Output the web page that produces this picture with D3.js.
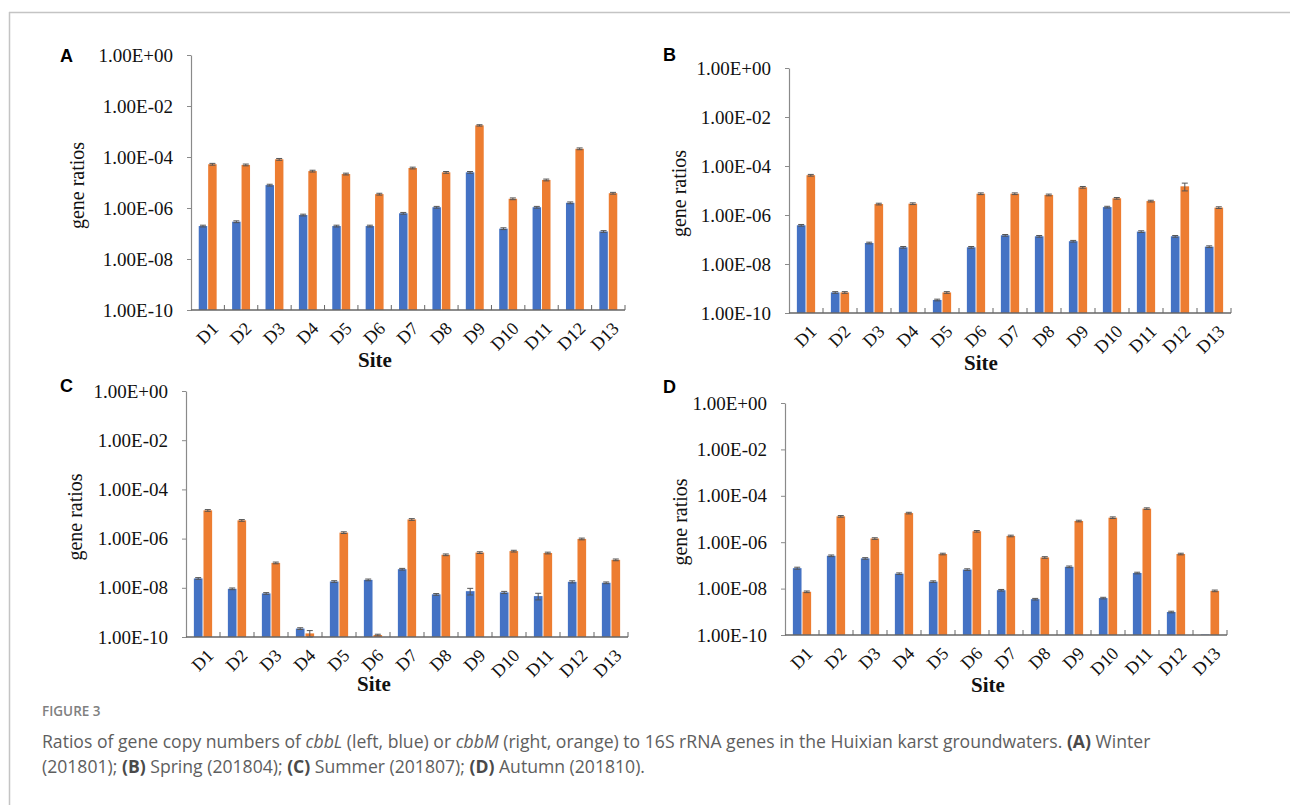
<!DOCTYPE html>
<html>
<head>
<meta charset="utf-8">
<script src="https://cdn.jsdelivr.net/npm/d3@7"></script>
<style>
  html, body { margin: 0; padding: 0; background: #fff; }
  svg { display: block; }
</style>
</head>
<body>
<svg id="chart" width="1290" height="805"></svg>
<script>
// ---------------- DATA ----------------
const sites = ["D1","D2","D3","D4","D5","D6","D7","D8","D9","D10","D11","D12","D13"];
const seriesNames = ["cbbL","cbbM"];
const yTickValues = [1, 1e-2, 1e-4, 1e-6, 1e-8, 1e-10];
const yTickLabels = ["1.00E+00","1.00E-02","1.00E-04","1.00E-06","1.00E-08","1.00E-10"];
const panelLetters = ["A","B","C","D"];

// (A) Winter 201801
const winterCbbL = [1.96e-7, 2.9e-7, 7.9e-6, 5.3e-7, 1.96e-7, 1.96e-7, 6.2e-7, 1.07e-6, 2.5e-5, 1.55e-7, 1.07e-6, 1.6e-6, 1.2e-7];
const winterCbbM = [5.2e-5, 4.9e-5, 8.1e-5, 2.8e-5, 2.15e-5, 3.5e-6, 3.7e-5, 2.5e-5, 1.74e-3, 2.3e-6, 1.26e-5, 2.1e-4, 3.8e-6];
// (B) Spring 201804
const springCbbL = [3.8e-7, 6.9e-10, 7.2e-8, 4.8e-8, 3.4e-10, 4.8e-8, 1.48e-7, 1.35e-7, 8.5e-8, 2.1e-6, 2.1e-7, 1.35e-7, 5.1e-8];
const springCbbM = [4.2e-5, 6.9e-10, 2.8e-6, 2.9e-6, 6.9e-10, 7.4e-6, 7.4e-6, 6.6e-6, 1.35e-5, 4.8e-6, 3.7e-6, 1.48e-5, 2.0e-6];
// (C) Summer 201807
const summerCbbL = [2.4e-8, 9.1e-9, 5.9e-9, 2.2e-10, 1.8e-8, 2.1e-8, 5.7e-8, 5.4e-9, 7.3e-9, 6.5e-9, 4.6e-9, 1.75e-8, 1.6e-8];
const summerCbbM = [1.4e-5, 5.5e-6, 1.03e-7, 1.4e-10, 1.75e-6, 1.2e-10, 6.0e-6, 2.2e-7, 2.7e-7, 3.1e-7, 2.6e-7, 9.7e-7, 1.37e-7];
// (D) Autumn 201810
const autumnCbbL = [7.6e-8, 2.6e-7, 2.0e-7, 4.4e-8, 2.0e-8, 6.6e-8, 8.5e-9, 3.5e-9, 8.7e-8, 3.9e-9, 4.7e-8, 9.8e-10, 1.05e-10];
const autumnCbbM = [7.3e-9, 1.3e-5, 1.44e-6, 1.8e-5, 3.1e-7, 2.95e-6, 1.86e-6, 2.2e-7, 8.2e-6, 1.14e-5, 2.8e-5, 3.1e-7, 8.0e-9];

// relative error (fraction of value) for error bars
const winterErrL = [0.08, 0.08, 0.08, 0.08, 0.08, 0.08, 0.08, 0.08, 0.08, 0.08, 0.08, 0.08, 0.08];
const winterErrM = [0.08, 0.08, 0.08, 0.08, 0.08, 0.08, 0.08, 0.08, 0.06, 0.08, 0.08, 0.08, 0.08];
const springErrL = [0.08, 0.08, 0.08, 0.08, 0.08, 0.08, 0.08, 0.08, 0.08, 0.08, 0.08, 0.08, 0.08];
const springErrM = [0.08, 0.08, 0.08, 0.08, 0.08, 0.08, 0.08, 0.08, 0.08, 0.08, 0.08, 0.35, 0.08];
const summerErrL = [0.08, 0.08, 0.08, 0.08, 0.08, 0.08, 0.08, 0.08, 0.30, 0.10, 0.30, 0.10, 0.08];
const summerErrM = [0.08, 0.08, 0.08, 0.3, 0.08, 0.08, 0.08, 0.08, 0.08, 0.08, 0.08, 0.08, 0.08];
const autumnErrL = [0.10, 0.08, 0.08, 0.08, 0.08, 0.08, 0.08, 0.08, 0.08, 0.08, 0.08, 0.08, 0.0];
const autumnErrM = [0.08, 0.08, 0.08, 0.08, 0.08, 0.08, 0.08, 0.08, 0.08, 0.08, 0.08, 0.08, 0.08];

// ---------------- LAYOUT ----------------
const panels = [
  { letter: panelLetters[0], L: winterCbbL, M: winterCbbM, eL: winterErrL, eM: winterErrM,
    x0: 191, x1: 625, yTop: 55, yBot: 310, letterX: 60, letterY: 62, ylabX: 84, siteX: 375, siteY: 367 },
  { letter: panelLetters[1], L: springCbbL, M: springCbbM, eL: springErrL, eM: springErrM,
    x0: 789, x1: 1231, yTop: 68, yBot: 313, letterX: 663, letterY: 61, ylabX: 686, siteX: 981, siteY: 370 },
  { letter: panelLetters[2], L: summerCbbL, M: summerCbbM, eL: summerErrL, eM: summerErrM,
    x0: 186, x1: 628, yTop: 391, yBot: 637, letterX: 60, letterY: 392, ylabX: 82, siteX: 374, siteY: 691 },
  { letter: panelLetters[3], L: autumnCbbL, M: autumnCbbM, eL: autumnErrL, eM: autumnErrM,
    x0: 785, x1: 1227, yTop: 403, yBot: 635, letterX: 663, letterY: 393, ylabX: 687, siteX: 988, siteY: 692 }
];

const colors = { cbbL: "#4472C4", cbbM: "#ED7D31" };
const axisColor = "#8a8a8a";
const serif = "'Liberation Serif', 'Times New Roman', serif";

const svg = d3.select("#chart");
svg.append("rect").attr("width", 1290).attr("height", 805).attr("fill", "#fff");

// frame lines
svg.append("line").attr("x1", 9).attr("x2", 1290).attr("y1", 12.5).attr("y2", 12.5)
  .attr("stroke", "#c4c4c4").attr("stroke-width", 1.5);
svg.append("line").attr("x1", 9.5).attr("x2", 9.5).attr("y1", 12).attr("y2", 805)
  .attr("stroke", "#c4c4c4").attr("stroke-width", 1.5);

panels.forEach(p => {
  const g = svg.append("g");
  const x = d3.scaleBand().domain(sites).range([p.x0, p.x1]).paddingInner(0).paddingOuter(0);
  const xs = d3.scaleBand().domain(seriesNames).range([0, x.step()]).paddingInner(0.1).paddingOuter(0.82);
  const y = d3.scaleLog().domain([1e-10, 1]).range([p.yBot, p.yTop]);

  // y axis
  const yAxis = d3.axisLeft(y).tickValues(yTickValues)
    .tickFormat((d, i) => yTickLabels[i]).tickSizeInner(4).tickSizeOuter(0).tickPadding(14);
  const ya = g.append("g").attr("transform", `translate(${p.x0},0)`).call(yAxis);
  ya.select(".domain").attr("stroke", axisColor).attr("stroke-width", 1.2);
  ya.selectAll(".tick line").attr("stroke", axisColor);
  ya.selectAll(".tick text").attr("font-family", serif).attr("font-size", 19).attr("fill", "#111");

  // bars
  const data = sites.map((s, i) => ({ site: s, cbbL: p.L[i], cbbM: p.M[i], eL: p.eL[i], eM: p.eM[i] }));
  const grp = g.selectAll("g.site").data(data).join("g")
    .attr("transform", d => `translate(${x(d.site)},0)`);
  seriesNames.forEach(sn => {
    grp.append("rect")
      .attr("x", xs(sn))
      .attr("width", xs.bandwidth())
      .attr("y", d => y(d[sn]))
      .attr("height", d => y(1e-10) - y(d[sn]))
      .attr("fill", colors[sn]);
    const ek = sn === "cbbL" ? "eL" : "eM";
    const cx = xs(sn) + xs.bandwidth() / 2;
    grp.filter(d => d[ek] > 0).each(function(d) {
      const gg = d3.select(this);
      const hi = y(d[sn] * (1 + d[ek]));
      const lo = Math.min(y(Math.max(d[sn] * (1 - d[ek]), 1e-10)), y(1e-10));
      gg.append("line").attr("x1", cx).attr("x2", cx).attr("y1", hi).attr("y2", lo)
        .attr("stroke", "#555").attr("stroke-width", 1);
      gg.append("line").attr("x1", cx - 3).attr("x2", cx + 3).attr("y1", hi).attr("y2", hi)
        .attr("stroke", "#555").attr("stroke-width", 1);
      gg.append("line").attr("x1", cx - 3).attr("x2", cx + 3).attr("y1", lo).attr("y2", lo)
        .attr("stroke", "#555").attr("stroke-width", 1);
    });
  });

  // x axis with inner boundary ticks
  const xa = g.append("g").attr("transform", `translate(0,${p.yBot})`);
  xa.append("line").attr("x1", p.x0).attr("x2", p.x1).attr("y1", 0).attr("y2", 0)
    .attr("stroke", "#666").attr("stroke-width", 1.5);
  xa.selectAll("line.bt").data(sites).join("line").attr("class", "bt")
    .attr("x1", d => x(d) + x.step()).attr("x2", d => x(d) + x.step())
    .attr("y1", 0).attr("y2", -5).attr("stroke", "#666").attr("stroke-width", 1);
  xa.selectAll("text").data(sites).join("text")
    .attr("transform", d => `translate(${x(d) + x.bandwidth() / 2 + 4},${12}) rotate(-45)`)
    .attr("text-anchor", "end").attr("dy", "0.6em")
    .attr("font-family", serif).attr("font-size", 18).attr("fill", "#111")
    .text(d => d);

  // axis titles
  g.append("text")
    .attr("transform", `translate(${p.ylabX},${(p.yTop + p.yBot) / 2 + 3}) rotate(-90)`)
    .attr("text-anchor", "middle").attr("font-family", serif).attr("font-size", 20).attr("fill", "#111")
    .text("gene ratios");
  g.append("text").attr("x", p.siteX).attr("y", p.siteY)
    .attr("text-anchor", "middle").attr("font-family", serif).attr("font-size", 21)
    .attr("font-weight", "bold").attr("fill", "#111").text("Site");

  // panel letter
  g.append("text").attr("x", p.letterX).attr("y", p.letterY)
    .attr("font-family", "'Liberation Sans', Arial, sans-serif").attr("font-weight", "bold")
    .attr("font-size", 18).attr("fill", "#000").text(p.letter);
});

// caption
const capFont = "'Open Sans', 'Noto Sans', sans-serif";
svg.append("text").attr("x", 42).attr("y", 716)
  .attr("font-family", capFont).attr("font-size", 13.5).attr("font-weight", 600)
  .attr("fill", "#808080").text("FIGURE 3");

const line1 = [
  ["Ratios of gene copy numbers of ", "n"], ["cbbL", "i"], [" (left, blue) or ", "n"], ["cbbM", "i"],
  [" (right, orange) to 16S rRNA genes in the Huixian karst groundwaters. ", "n"], ["(A)", "b"], [" Winter", "n"]
];
const line2 = [
  ["(201801); ", "n"], ["(B)", "b"], [" Spring (201804); ", "n"], ["(C)", "b"], [" Summer (201807); ", "n"],
  ["(D)", "b"], [" Autumn (201810).", "n"]
];
[[line1, 748], [line2, 773]].forEach(([parts, yy]) => {
  const t = svg.append("text").attr("x", 42).attr("y", yy)
    .attr("font-family", capFont).attr("font-size", 17.6).attr("fill", "#5e5e5e");
  parts.forEach(([s, st]) => {
    const ts = t.append("tspan").text(s);
    if (st === "i") ts.attr("font-style", "italic");
    if (st === "b") ts.attr("font-weight", "bold").attr("fill", "#4a4a4a");
  });
});
</script>
</body>
</html>
